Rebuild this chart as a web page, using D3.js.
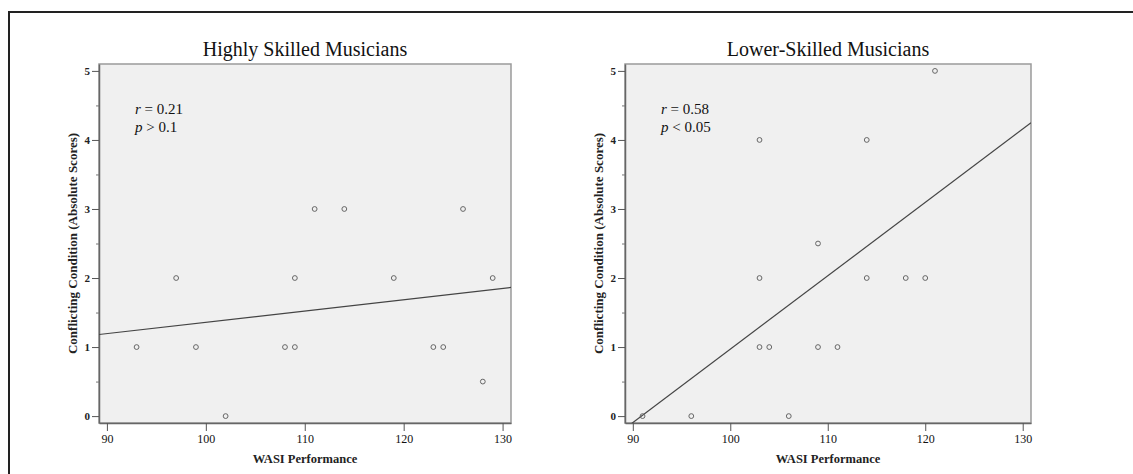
<!DOCTYPE html>
<html>
<head>
<meta charset="utf-8">
<script src="https://cdn.jsdelivr.net/npm/d3@7"></script>
<style>
  body { margin: 0; background: #fff; }
  svg { display: block; font-family: "Liberation Serif", "Times New Roman", serif; }
</style>
</head>
<body>
<svg id="chart" width="1133" height="474"></svg>
<script>
// data
const panelTitles = ["Highly Skilled Musicians", "Lower-Skilled Musicians"];
const highWasi  = [93, 97, 99, 102, 108, 109, 109, 111, 114, 119, 123, 124, 126, 128, 129];
const highScore = [1, 2, 1, 0, 1, 2, 1, 3, 3, 2, 1, 1, 3, 0.5, 2];
const lowWasi   = [91, 96, 103, 103, 103, 104, 106, 109, 109, 111, 114, 114, 118, 120, 121];
const lowScore  = [0, 0, 4, 2, 1, 1, 0, 2.5, 1, 1, 4, 2, 2, 2, 5];
const rLabels = ["0.21", "0.58"];
const pLabels = ["> 0.1", "< 0.05"];
const xTicks = [90, 100, 110, 120, 130];
const yTicks = [0, 1, 2, 3, 4, 5];
const yMinorTicks = [0.5, 1.5, 2.5, 3.5, 4.5];

const svg = d3.select("#chart");

// outer frame
svg.append("path")
  .attr("d", "M9,480 V12 H1140")
  .attr("fill", "none")
  .attr("stroke", "#222")
  .attr("stroke-width", 2);

const panels = [
  { left: 99, right: 511, xs: highWasi, ys: highScore, yLabelX: 74 },
  { left: 625, right: 1031, xs: lowWasi, ys: lowScore, yLabelX: 600 }
];
const plotTop = 64, plotBottom = 423;

// simple least squares fit
function fit(xs, ys) {
  const mx = d3.mean(xs), my = d3.mean(ys);
  let sxy = 0, sxx = 0;
  xs.forEach((x, i) => { sxy += (x - mx) * (ys[i] - my); sxx += (x - mx) * (x - mx); });
  const b = sxy / sxx;
  return x => my + b * (x - mx);
}

panels.forEach((p, i) => {
  const x = d3.scaleLinear().domain([89.2, 130.85]).range([p.left, p.right]);
  const y = d3.scaleLinear().domain([-0.1, 5.1]).range([plotBottom, plotTop]);
  const g = svg.append("g");

  g.append("clipPath").attr("id", "clip" + i)
    .append("rect")
    .attr("x", p.left).attr("y", plotTop)
    .attr("width", p.right - p.left).attr("height", plotBottom - plotTop);

  g.append("rect")
    .attr("x", p.left).attr("y", plotTop)
    .attr("width", p.right - p.left).attr("height", plotBottom - plotTop)
    .attr("fill", "#f0f0f0")
    .attr("stroke", "#9a9a9a")
    .attr("stroke-width", 1.5);

  // title
  g.append("text")
    .attr("x", (p.left + p.right) / 2)
    .attr("y", 56)
    .attr("text-anchor", "middle")
    .attr("font-size", 20)
    .attr("fill", "#111")
    .text(panelTitles[i]);

  // x axis
  const xa = g.append("g")
    .attr("transform", `translate(0,${plotBottom})`)
    .call(d3.axisBottom(x).tickValues(xTicks).tickSize(8).tickPadding(3).tickSizeOuter(0));
  xa.select(".domain").attr("stroke", "#666").attr("stroke-width", 1.5);
  xa.selectAll(".tick line").attr("stroke", "#555");
  xa.selectAll("text")
    .attr("font-family", "Liberation Serif")
    .attr("font-size", 12)
    .attr("fill", "#111");

  // y axis
  const ya = g.append("g")
    .attr("transform", `translate(${p.left},0)`)
    .call(d3.axisLeft(y).tickValues(yTicks).tickFormat(d3.format("d"))
      .tickSize(7).tickPadding(2).tickSizeOuter(0));
  ya.select(".domain").attr("stroke", "#666").attr("stroke-width", 1.5);
  ya.selectAll(".tick line").attr("stroke", "#555");
  ya.selectAll("text")
    .attr("font-family", "Liberation Serif")
    .attr("font-size", 11)
    .attr("font-weight", "bold")
    .attr("fill", "#222");

  const ym = g.append("g")
    .attr("transform", `translate(${p.left},0)`)
    .call(d3.axisLeft(y).tickValues(yMinorTicks).tickSize(3).tickFormat(""));
  ym.select(".domain").remove();
  ym.selectAll(".tick line").attr("stroke", "#777");

  // axis titles
  g.append("text")
    .attr("x", (p.left + p.right) / 2)
    .attr("y", 463)
    .attr("text-anchor", "middle")
    .attr("font-size", 12.5)
    .attr("font-weight", "bold")
    .attr("fill", "#222")
    .text("WASI Performance");

  g.append("text")
    .attr("transform", `translate(${p.yLabelX + 3},${(plotTop + plotBottom) / 2}) rotate(-90)`)
    .attr("text-anchor", "middle")
    .attr("font-size", 13)
    .attr("font-weight", "bold")
    .attr("fill", "#222")
    .text("Conflicting Condition (Absolute Scores)");

  // regression line
  const f = fit(p.xs, p.ys);
  const dom = x.domain();
  g.append("line")
    .attr("clip-path", `url(#clip${i})`)
    .attr("x1", x(dom[0])).attr("y1", y(f(dom[0])))
    .attr("x2", x(dom[1])).attr("y2", y(f(dom[1])))
    .attr("stroke", "#444")
    .attr("stroke-width", 1.2);

  // points
  g.selectAll("circle.pt")
    .data(p.xs.map((v, k) => [v, p.ys[k]]))
    .join("circle")
    .attr("class", "pt")
    .attr("cx", d => x(d[0]))
    .attr("cy", d => y(d[1]))
    .attr("r", 2.4)
    .attr("fill", "none")
    .attr("stroke", "#666")
    .attr("stroke-width", 1);

  // stats
  const ann = g.append("text")
    .attr("x", p.left + 36)
    .attr("font-size", 15)
    .attr("fill", "#111");
  const l1 = ann.append("tspan").attr("x", p.left + 36).attr("y", 114);
  l1.append("tspan").attr("font-style", "italic").text("r");
  l1.append("tspan").text(" = " + rLabels[i]);
  const l2 = ann.append("tspan").attr("x", p.left + 36).attr("y", 132);
  l2.append("tspan").attr("font-style", "italic").text("p");
  l2.append("tspan").text(" " + pLabels[i]);
});
</script>
</body>
</html>
